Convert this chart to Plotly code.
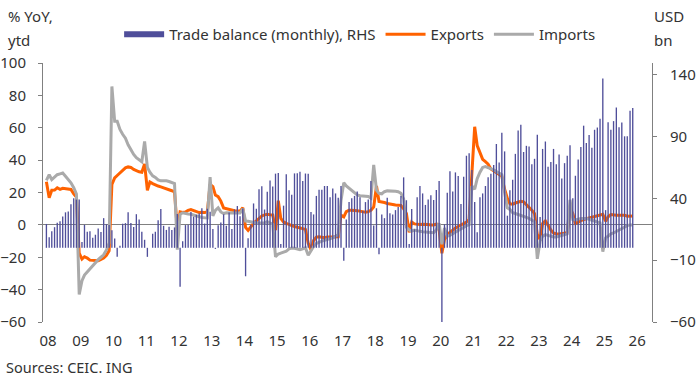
import pandas as pd
import plotly.graph_objects as go

# ---------------- data (monthly, Jan 2008 - Dec 2025) ----------------
start_month = "2008-01-01"
n_months = 216

exports_yoy_ytd = [
    26.7, 16.8, 21.4, 21.5, 22.9, 21.9, 22.6, 22.4, 22.3, 21.9, 19.2, 17.2,   # 2008
    -17.5, -21.1, -19.7, -20.5, -21.8, -21.8, -22.0, -22.2, -21.3, -20.5, -18.8, -16.0,  # 2009
    25.0, 29.0, 30.5, 32.0, 34.0, 35.2, 35.8, 35.5, 34.2, 33.3, 32.8, 32.5,   # 2010
    37.7, 21.3, 26.5, 25.5, 24.5, 24.0, 23.5, 23.0, 22.5, 22.0, 21.1, 20.3,   # 2011
    -3.0, 8.0, 7.6, 7.9, 9.0, 9.5, 9.0, 8.0, 7.6, 7.8, 7.6, 7.9,             # 2012
    25.0, 23.6, 18.4, 17.4, 14.7, 10.4, 9.9, 9.4, 8.9, 8.7, 8.6, 8.5,         # 2013
    10.6, -1.6, -3.4, -1.0, 1.0, 2.5, 4.0, 5.5, 6.2, 6.5, 6.2, 6.1,           # 2014
    -3.3, 15.0, 4.0, 1.8, 1.0, 0.0, -0.5, -1.0, -1.5, -2.0, -2.3, -2.8,       # 2015
    -11.2, -15.5, -9.6, -7.6, -7.3, -7.7, -7.9, -7.5, -7.5, -7.3, -7.2, -7.3, # 2016
    6.0, 5.0, 8.2, 9.0, 9.0, 9.0, 8.7, 8.5, 8.0, 7.8, 8.2, 9.0,               # 2017
    11.1, 24.0, 14.5, 14.3, 13.8, 13.2, 12.8, 12.5, 12.3, 12.2, 12.0, 9.9,    # 2018
    7.0, -4.6, 1.8, 0.6, 0.3, 0.2, 0.4, 0.1, 0.2, 0.0, 0.0, 0.5,              # 2019
    -3.0, -17.5, -9.0, -6.0, -4.5, -3.0, -2.0, -1.0, 0.0, 0.6, 1.7, 3.3,      # 2020
    30.0, 60.6, 49.0, 44.0, 40.5, 39.0, 37.5, 34.5, 33.3, 32.5, 31.5, 30.0,   # 2021
    22.0, 16.3, 13.0, 12.8, 13.5, 14.2, 14.6, 14.2, 12.5, 11.1, 9.0, 7.0,     # 2022
    -6.0, -9.0, 0.8, 2.5, -0.5, -3.2, -5.0, -5.6, -5.7, -5.6, -5.2, -4.6,     # 2023
    10.0, 7.0, 1.0, 1.5, 2.7, 3.3, 3.8, 4.3, 4.5, 5.0, 5.4, 5.9,              # 2024
    6.5, 2.3, 5.0, 6.4, 6.0, 5.9, 6.0, 5.9, 6.0, 5.4, 5.4, 5.5,               # 2025
]

imports_yoy_ytd = [
    27.5, 31.0, 28.0, 29.5, 31.0, 31.5, 32.0, 30.0, 28.0, 26.0, 23.0, 19.0,   # 2008
    -43.0, -34.5, -31.0, -29.0, -27.5, -25.5, -23.5, -21.5, -20.0, -18.5, -15.5, -11.2,  # 2009
    85.5, 64.0, 64.0, 59.0, 56.0, 53.5, 49.5, 46.0, 43.5, 41.5, 40.0, 39.0,   # 2010
    51.5, 35.5, 32.6, 30.3, 29.3, 27.8, 27.2, 27.3, 27.2, 26.8, 26.3, 25.5,   # 2011
    -15.3, 6.5, 7.5, 7.0, 6.7, 6.5, 6.0, 5.3, 5.0, 4.6, 4.4, 4.3,             # 2012
    29.5, 5.5, 9.0, 10.5, 8.0, 7.0, 7.5, 7.5, 7.5, 7.5, 7.5, 7.3,            # 2013
    10.0, 2.3, 2.2, 1.7, 1.5, 1.2, 1.2, 1.2, 1.2, 2.0, 1.2, 0.4,              # 2014
    -19.7, -18.0, -17.4, -16.8, -16.3, -14.8, -14.3, -14.5, -15.0, -15.3, -14.8, -14.1,  # 2015
    -18.8, -16.0, -13.4, -11.5, -10.5, -10.0, -9.5, -9.0, -8.5, -8.0, -7.0, -6.0,  # 2016
    15.0, 26.0, 24.0, 22.5, 21.0, 20.0, 18.5, 18.0, 17.8, 17.7, 17.5, 16.5,  # 2017
    37.0, 21.5, 19.5, 19.2, 20.5, 21.0, 21.0, 21.0, 20.8, 20.5, 19.5, 16.0,  # 2018
    -1.5, -3.1, -3.8, -3.2, -3.7, -4.0, -4.2, -4.3, -4.5, -4.8, -4.8, -3.0,  # 2019
    1.0, -12.0, -2.0, -7.0, -6.5, -5.5, -4.5, -3.5, -2.5, -1.5, -0.5, 0.0,   # 2020
    24.0, 22.0, 28.5, 32.5, 35.5, 36.0, 35.5, 35.0, 34.0, 33.0, 32.0, 31.0,  # 2021
    20.0, 10.5, 9.5, 7.5, 7.0, 6.5, 6.0, 5.3, 4.6, 4.0, 3.0, 2.0,            # 2022
    -21.0, -10.0, -7.0, -6.0, -6.5, -7.0, -7.5, -7.5, -7.0, -6.5, -6.0, -5.5,  # 2023
    15.5, 3.3, 3.0, 3.5, 4.0, 4.0, 4.0, 3.5, 3.0, 2.5, 2.0, 1.2,             # 2024
    -16.5, -8.0, -7.0, -5.5, -5.0, -4.0, -3.5, -2.5, -1.5, -0.5, 0.0, 0.0,   # 2025
]

trade_balance_usd_bn = [
    19.3, 8.5, 13.4, 16.7, 20.2, 21.4, 25.3, 28.7, 29.3, 35.2, 40.1, 39.0,   # 2008
    39.1, 4.8, 18.6, 13.1, 13.4, 8.2, 10.6, 15.7, 12.9, 24.0, 19.1, 18.4,    # 2009
    14.2, 7.6, -7.2, 1.7, 19.5, 20.0, 28.7, 20.0, 16.9, 27.2, 22.9, 13.1,    # 2010
    6.5, -7.3, 0.1, 11.4, 13.0, 22.3, 31.5, 17.8, 14.5, 17.0, 14.5, 16.5,    # 2011
    27.3, -31.5, 5.4, 18.4, 18.7, 29.0, 25.2, 26.7, 27.7, 32.0, 19.6, 31.6,  # 2012
    29.2, 15.3, -0.9, 18.2, 20.4, 27.1, 17.8, 28.5, 15.2, 31.1, 33.8, 25.6,  # 2013
    31.9, -23.0, 7.7, 18.5, 35.9, 31.6, 47.3, 49.8, 31.0, 45.4, 54.5, 49.6,  # 2014
    60.0, 60.6, 3.1, 34.1, 59.5, 46.5, 43.0, 60.2, 60.3, 61.6, 54.1, 60.1,   # 2015
    60.0, 29.0, 27.0, 42.0, 47.0, 47.0, 50.0, 50.0, 41.0, 48.0, 44.0, 40.5,  # 2016
    50.0, -10.5, 23.0, 37.0, 40.0, 42.0, 45.5, 41.0, 30.0, 37.0, 39.0, 54.0, # 2017
    18.0, 32.0, -5.2, 27.0, 24.0, 40.5, 28.0, 27.0, 30.5, 33.0, 42.0, 57.0,  # 2018
    38.5, 3.0, 31.5, 15.0, 41.0, 50.0, 44.0, 34.7, 39.0, 42.5, 38.7, 46.8,   # 2019
    54.0, -62.0, 19.0, 44.5, 62.0, 45.5, 61.0, 58.0, 35.5, 57.5, 74.5, 76.5, # 2020
    63.0, 37.0, 12.5, 41.0, 44.0, 50.0, 57.0, 60.0, 67.0, 84.0, 69.0, 93.0,  # 2021
    78.0, 26.0, 46.5, 55.0, 76.0, 95.0, 99.5, 77.5, 82.5, 82.0, 67.5, 72.0,  # 2022
    91.4, 25.0, 80.0, 86.0, 65.5, 69.5, 80.0, 67.5, 75.5, 56.0, 68.5, 74.5,  # 2023
    83.0, 40.0, 58.3, 71.5, 81.5, 98.8, 84.8, 91.2, 81.0, 95.5, 97.3, 104.5, # 2024
    137.0, 30.5, 101.5, 95.6, 102.5, 113.5, 97.5, 101.3, 90.2, 90.2, 110.8, 113.0,  # 2025
]

year_labels = ["08", "09", "10", "11", "12", "13", "14", "15", "16", "17",
               "18", "19", "20", "21", "22", "23", "24", "25", "26"]

# ---------------- styling ----------------
BAR_COL = "#4f4e9a"
EXP_COL = "#ff6200"
IMP_COL = "#aaaaaa"
AXIS_COL = "#808080"
TXT_COL = "#333333"
FONT = "Noto Sans"
DAY_MS = 86400000

months = pd.date_range(start_month, periods=n_months, freq="MS")
tick_dates = [f"20{y}-01-19" for y in year_labels]

fig = go.Figure()

# legend-only entry giving the wide flat swatch for the bars
fig.add_trace(go.Scatter(x=[None], y=[None], mode="lines",
                         line=dict(color=BAR_COL, width=6),
                         name="Trade balance (monthly), RHS", showlegend=True))

fig.add_trace(go.Bar(x=months, y=trade_balance_usd_bn, yaxis="y2",
                     width=15 * DAY_MS,
                     marker=dict(color=BAR_COL, line=dict(width=0)),
                     name="Trade balance (monthly), RHS", showlegend=False))

fig.add_trace(go.Scatter(x=months, y=exports_yoy_ytd, mode="lines",
                         line=dict(color=EXP_COL, width=3),
                         name="Exports"))
fig.add_trace(go.Scatter(x=months, y=imports_yoy_ytd, mode="lines",
                         line=dict(color=IMP_COL, width=3),
                         name="Imports"))

fig.update_layout(
    width=696, height=379,
    margin=dict(l=43, r=44, t=63, b=57, autoexpand=False),
    paper_bgcolor="white", plot_bgcolor="white",
    font=dict(family=FONT, size=15, color=TXT_COL),
    hovermode=False,
    showlegend=True,
    legend=dict(orientation="h", x=0.125, xanchor="left", y=1.11, yanchor="middle",
                font=dict(size=15, color=TXT_COL), itemwidth=40,
                bgcolor="rgba(0,0,0,0)", traceorder="normal"),
    xaxis=dict(type="date", range=["2007-11-24", "2026-07-04"],
               tickvals=tick_dates, ticktext=year_labels,
               showgrid=False, zeroline=False, showline=False, ticks="",
               tickfont=dict(size=15, color=TXT_COL), ticklabelstandoff=8),
    yaxis=dict(range=[-60, 100], dtick=20, tick0=0,
               showgrid=False, zeroline=True, zerolinecolor=AXIS_COL, zerolinewidth=1,
               showline=True, linecolor=AXIS_COL, linewidth=1,
               ticks="outside", ticklen=4, tickcolor=AXIS_COL,
               tickfont=dict(size=15, color=TXT_COL), ticklabelstandoff=9),
    yaxis2=dict(overlaying="y", side="right", range=[-60, 149.5],
                tickvals=[-60, -10, 40, 90, 140],
                showgrid=False, zeroline=False,
                showline=True, linecolor=AXIS_COL, linewidth=1,
                ticks="outside", ticklen=4, tickcolor=AXIS_COL,
                tickfont=dict(size=15, color=TXT_COL), ticklabelstandoff=10),
    annotations=[
        dict(text="% YoY,", xref="paper", yref="paper", x=-0.060, y=1.18,
             xanchor="left", yanchor="middle", showarrow=False, font=dict(size=15)),
        dict(text="ytd", xref="paper", yref="paper", x=-0.060, y=1.09,
             xanchor="left", yanchor="middle", showarrow=False, font=dict(size=15)),
        dict(text="USD", xref="paper", yref="paper", x=1.0, y=1.18,
             xanchor="left", yanchor="middle", showarrow=False, font=dict(size=15)),
        dict(text="bn", xref="paper", yref="paper", x=1.0, y=1.09,
             xanchor="left", yanchor="middle", showarrow=False, font=dict(size=15)),
        dict(text="Sources: CEIC. ING", xref="paper", yref="paper", x=-0.0646, y=-0.175,
             xanchor="left", yanchor="middle", showarrow=False, font=dict(size=14.5)),
    ],
)

# remove the browser's default 8px page margin so the figure sits at the window origin
fig.write_html("out.html", config={"displayModeBar": False, "staticPlot": True},
               post_script="document.body.style.margin='0';")
